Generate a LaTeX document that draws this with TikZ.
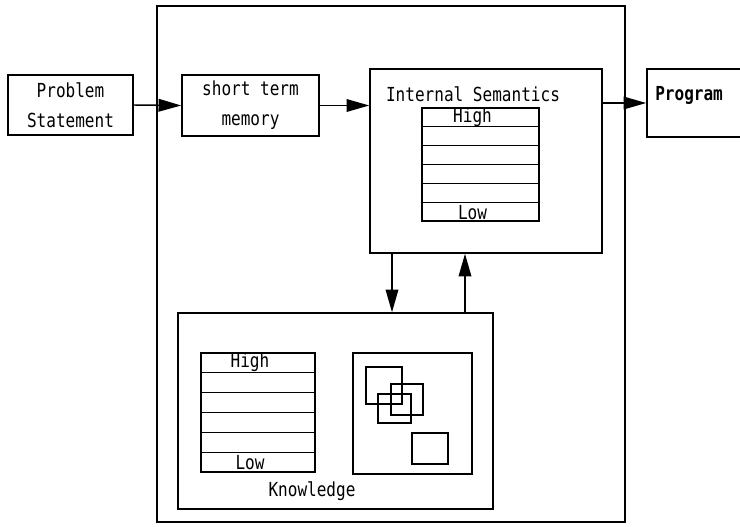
\documentclass[tikz,border=0pt]{standalone}
\usepackage{fontspec}
\usepackage{tikz}
\usetikzlibrary{arrows.meta,positioning,calc}
\newfontfamily\lpfont[FakeStretch=0.83]{DejaVu Sans Mono}

\tikzset{
  box/.style={draw,line width=1.2pt,inner sep=0pt},
  sz/.style 2 args={minimum width=#1*0.75pt,minimum height=#2*0.75pt},
  lbl/.style={font=\lpfont\fontsize{14.5}{17.4}\selectfont,inner sep=0pt},
  flow/.style={line width=1.1pt,-{Triangle[length=17pt,width=9.5pt]}}
}

\begin{document}
\begin{tikzpicture}[x=0.75pt,y=-0.75pt]
  \useasboundingbox (0,0) rectangle (740,527);

  % the mind and what sits in it
  \node[box,sz={468}{516}] (mind) at (391,264) {};
  \node[box,sz={125}{60},lbl,align=center] (prob) at (70.5,105) {Problem\\[5pt]Statement};
  \node[box,sz={137}{61},lbl,align=center] (stm) at (250.5,105.5) {short term\\[5pt]memory};
  \node[box,sz={232}{184}] (sem) at (486,161) {};
  \node[box,sz={103}{68}] (prog) at (698.5,103) {};
  \node[lbl,anchor=west] (progtxt) at (655,95) {\bfseries Program};
  \node[lbl] (semtxt) at (473,94) {Internal Semantics};

  % knowledge store
  \node[box,sz={315}{196}] (know) at (335.5,411) {};
  \node[lbl] (knowtxt) at (312,491) {Knowledge};
  \node[box,sz={119}{121}] (kmap) at (412.5,413.5) {};

  % the two high/low stacks
  \node[box,sz={117}{113}] (istack) at (480.5,164.5) {};
  \node[box,sz={114}{119}] (kstack) at (258,412.5) {};
  \foreach \s in {istack,kstack} {
    \foreach \k in {1,...,5}
      \draw[line width=1pt] ($(\s.north west)!\k/6!(\s.south west)$)
        -- ($(\s.north east)!\k/6!(\s.south east)$);
    \node[lbl,xshift=-6pt] (\s hi) at ($(\s.north)!1/12!(\s.south)$) {High};
    \node[lbl,xshift=-6pt] (\s lo) at ($(\s.north)!11/12!(\s.south)$) {Low};
  }

  % overlapping chunks
  \draw[line width=1.2pt] (366,367) rectangle (402,404);
  \draw[line width=1.2pt] (391,384) rectangle (423,415);
  \draw[line width=1.6pt] (378,394) rectangle (411,423);
  \draw[line width=1.2pt] (412,433) rectangle (448,464);

  % flow
  \coordinate (dn) at (392,0);
  \coordinate (up) at (465,0);
  \draw[flow] (prob.east) -- (stm.west);
  \draw[flow] (stm.east) -- (stm.east -| sem.west);
  \draw[flow] (sem.east |- prog.west) -- (prog.west);
  \draw[flow] (sem.south -| dn) -- (know.north -| dn);
  \draw[flow] (know.north -| up) -- (sem.south -| up);
\end{tikzpicture}
\end{document}
